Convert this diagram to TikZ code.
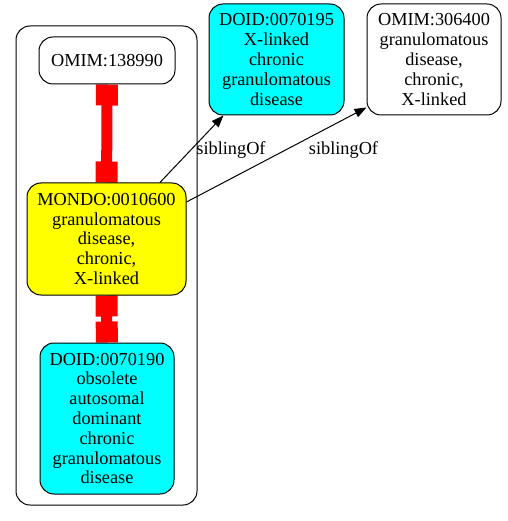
\documentclass[tikz,border=0pt]{standalone}
\usepackage{fontspec}
\setmainfont{Liberation Serif}
\usetikzlibrary{arrows.meta}
\pgfdeclarelayer{edgelayer}
\pgfdeclarelayer{nodelayer}
\pgfsetlayers{edgelayer,nodelayer,main}
\definecolor{termcyan}{RGB}{0,255,255}
\definecolor{termyellow}{RGB}{255,255,0}
\definecolor{termred}{RGB}{255,0,0}
\tikzstyle{term}=[rectangle, rounded corners=14pt, draw=black, line width=1pt, align=center, inner sep=0pt, font=\fontsize{18.3}{19.8}\selectfont]
\tikzstyle{whiteterm}=[term, fill=white]
\tikzstyle{cyanterm}=[term, fill=termcyan]
\tikzstyle{yellowterm}=[term, fill=termyellow]
\tikzstyle{equiv}=[draw=termred, line width=11pt, {Rectangle[width=22pt,length=21pt]}-{Rectangle[width=22pt,length=21pt]}]
\tikzstyle{sibling}=[draw=black, line width=1pt, -{Triangle[length=12pt,width=9pt]}]
\tikzstyle{edgetext}=[inner sep=0pt, font=\fontsize{18.3}{20}\selectfont]
\tikzstyle{cluster}=[draw=black, line width=1pt, rounded corners=14pt]

\begin{document}
\begin{tikzpicture}[x=1pt, y=-1pt]
	\useasboundingbox (0,0) rectangle (507,521);
	\begin{pgfonlayer}{nodelayer}

	%cluster
		\node [style=whiteterm, minimum width=136pt, minimum height=47pt] (1) at (107,60.5) {OMIM:138990};
		\node [style=yellowterm, minimum width=159pt, minimum height=112pt] (2) at (106.5,239) {MONDO:0010600\\granulomatous\\disease,\\chronic,\\X-linked};
		\node [style=cyanterm, minimum width=134pt, minimum height=151pt] (3) at (107,418.5) {DOID:0070190\\obsolete\\autosomal\\dominant\\chronic\\granulomatous\\disease};

	%outside
		\node [style=cyanterm, minimum width=135pt, minimum height=111pt] (4) at (276.5,59.5) {DOID:0070195\\X-linked\\chronic\\granulomatous\\disease};
		\node [style=whiteterm, minimum width=134pt, minimum height=111pt] (5) at (434,59.5) {OMIM:306400\\granulomatous\\disease,\\chronic,\\X-linked};

		\node [style=edgetext] (6) at (231,150) {siblingOf};
		\node [style=edgetext] (7) at (343.5,150) {siblingOf};

	\end{pgfonlayer}
	\begin{pgfonlayer}{edgelayer}

		%cluster
		\draw [style=cluster] (16,26) rectangle (197,505);

		%equivalents
		\draw [style=equiv] (1) to (2);
		\draw [style=equiv] (2) to (3);

		%siblingOf
		\draw [style=sibling] (2) to (4);
		\draw [style=sibling] ([yshift=37pt]2.east) to ([yshift=-48pt]5.west);

	\end{pgfonlayer}
\end{tikzpicture}
\end{document}
